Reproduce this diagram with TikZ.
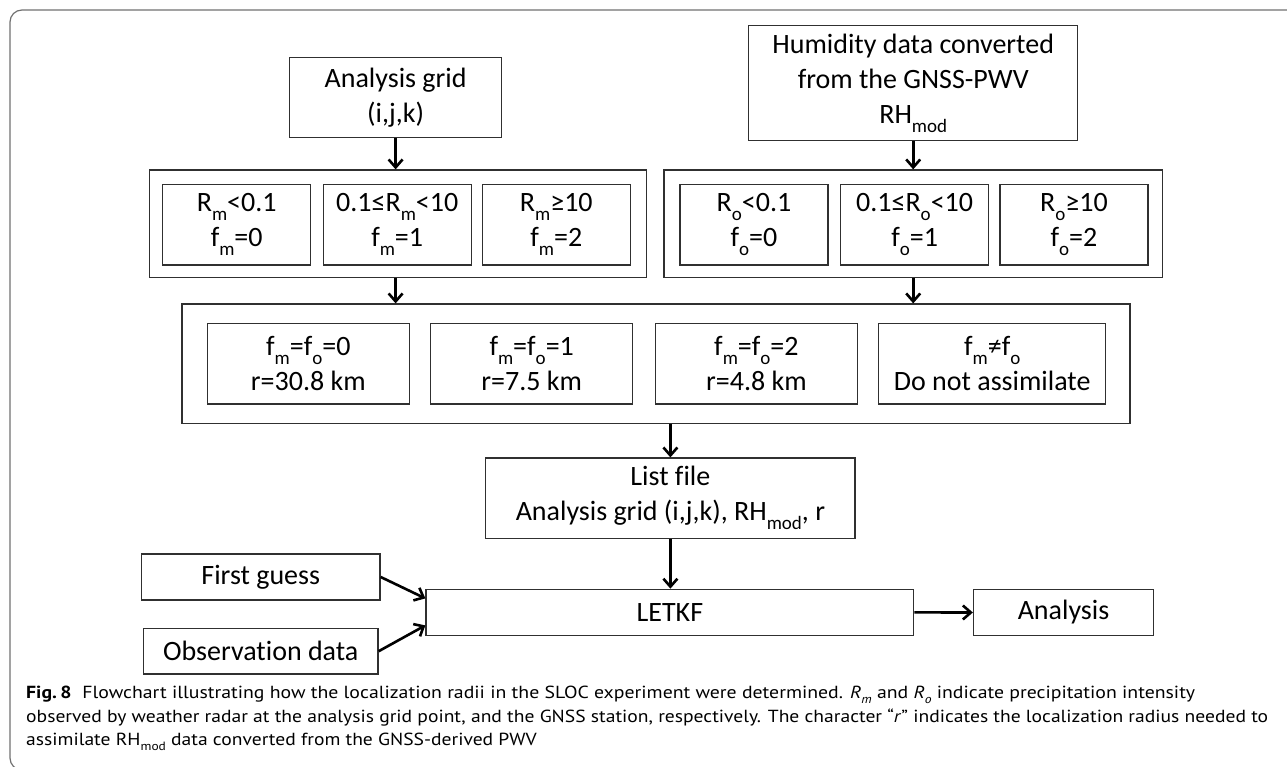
\documentclass[tikz,border=0pt]{standalone}
\usepackage{fontspec}
\usepackage{graphicx}
\setmainfont{Carlito}[Ligatures=NoCommon]
\newfontfamily\capfont{PT Sans}
\usetikzlibrary{arrows.meta,calc}
\definecolor{boxgray}{HTML}{303030}
\definecolor{framegray}{HTML}{707070}
\definecolor{captext}{HTML}{231F20}
\newcommand\sbs[1]{\raisebox{-0.32em}{\fontsize{19}{19}\selectfont #1}}
\newcommand\csb[1]{\raisebox{-0.28em}{\fontsize{12}{12}\selectfont #1}}
\newsavebox\capboxa
\newsavebox\capboxb
\newsavebox\capboxc
\begin{document}
\sbox\capboxa{\capfont\fontsize{17.5}{21}\selectfont\textbf{Fig.\,8}\hspace{0.55em}Flowchart illustrating how the localization radii in the SLOC experiment were determined. \textit{R}\csb{\textit{m}} and \textit{R}\csb{\textit{o}} indicate precipitation intensity}%
\sbox\capboxb{\capfont\fontsize{17.5}{21}\selectfont observed by weather radar at the analysis grid point, and the GNSS station, respectively. The character “\textit{r}” indicates the localization radius needed to}%
\sbox\capboxc{\capfont\fontsize{17.5}{21}\selectfont assimilate RH\csb{mod} data converted from the GNSS-derived PWV}%
\pgfmathsetmacro\capsc{1242/\wd\capboxb}%
\pgfmathsetmacro\capsa{1169/\wd\capboxa}%
\begin{tikzpicture}[x=1pt,y=-1pt,
  box/.style={draw=boxgray, line width=1.3pt, rectangle, inner sep=0pt, align=center,
    font=\fontsize{28}{35}\selectfont},
  holder/.style={draw=boxgray, line width=1.3pt, rectangle, inner sep=0pt},
  arr/.style={line width=2.6pt, -{Straight Barb[length=8pt,width=14pt]}}]
\useasboundingbox (0,0) rectangle (1287,767);
\clip (0,0) rectangle (1287,767);
% outer frame
\draw[framegray, line width=1.2pt, rounded corners=12pt] (1300,10) -- (10,10) -- (10,770) -- (1300,770);

% top boxes
\node[box, minimum width=212pt, minimum height=80pt] (ag) at (395.6,97.5) {Analysis grid\\(i,j,k)};
\node[box, minimum width=329pt, minimum height=115pt] (hum) at (913.2,83.2)
  {Humidity data converted\\from the GNSS-PWV\\RH\sbs{mod}};

% left container
\node[holder, minimum width=497.5pt, minimum height=107.3pt] (lc) at (398,223.7) {};
\node[box, minimum width=148pt, minimum height=80.7pt] (l1) at (236.7,224.7) {R\sbs{m}<0.1\\f\sbs{m}=0};
\node[box, minimum width=148pt, minimum height=80.7pt] (l2) at (397.2,224.7) {0.1≤R\sbs{m}<10\\f\sbs{m}=1};
\node[box, minimum width=148pt, minimum height=80.7pt] (l3) at (556.3,224.7) {R\sbs{m}≥10\\f\sbs{m}=2};

% right container
\node[holder, minimum width=498.3pt, minimum height=107.3pt] (rc) at (913.2,223.7) {};
\node[box, minimum width=148pt, minimum height=80.7pt] (r1) at (754,224.7) {R\sbs{o}<0.1\\f\sbs{o}=0};
\node[box, minimum width=148pt, minimum height=80.7pt] (r2) at (914.6,224.7) {0.1≤R\sbs{o}<10\\f\sbs{o}=1};
\node[box, minimum width=148pt, minimum height=80.7pt] (r3) at (1073.9,224.7) {R\sbs{o}≥10\\f\sbs{o}=2};

% big container
\node[holder, minimum width=948pt, minimum height=119.3pt] (bc) at (656,363.7) {};
\node[box, minimum width=202pt, minimum height=80.7pt] (b1) at (308.3,363.7) {f\sbs{m}=f\sbs{o}=0\\r=30.8 km};
\node[box, minimum width=202pt, minimum height=80.7pt] (b2) at (531.7,363.7) {f\sbs{m}=f\sbs{o}=1\\r=7.5 km};
\node[box, minimum width=202pt, minimum height=80.7pt] (b3) at (756.4,363.7) {f\sbs{m}=f\sbs{o}=2\\r=4.8 km};
\node[box, minimum width=227pt, minimum height=80.7pt] (b4) at (992.2,363.7) {f\sbs{m}≠f\sbs{o}\\Do not assimilate};

% list file and lower boxes
\node[box, minimum width=369.2pt, minimum height=80.3pt] (list) at (670.4,498.2)
  {List file\\Analysis grid (i,j,k), RH\sbs{mod}, r};
\node[box, minimum width=487.8pt, minimum height=46.2pt] (letkf) at (669.9,612.4) {LETKF};
\node[box, minimum width=180pt, minimum height=46.4pt] (ana) at (1063.5,612.5) {Analysis};
\node[box, minimum width=238.5pt, minimum height=46pt] (fg) at (260.8,577) {First guess};
\node[box, minimum width=234.7pt, minimum height=45.7pt] (obs) at (260.7,651.2) {Observation data};

% arrows
\draw[arr] (ag.south) -- (ag.south |- lc.north);
\draw[arr] (ag.south |- lc.south) -- (ag.south |- bc.north);
\draw[arr] (hum.south) -- (hum.south |- rc.north);
\draw[arr] (hum.south |- rc.south) -- (hum.south |- bc.north);
\draw[arr] (list.north |- bc.south) -- (list.north);
\draw[arr] (list.south) -- (list.south |- letkf.north);
\draw[arr] (letkf.east) -- (ana.west);
\draw[arr] (fg.east) -- ($(letkf.west)+(0,-14)$);
\draw[arr] (obs.east) -- ($(letkf.west)+(0,13)$);

% caption
\node[anchor=west, inner sep=0pt, text=captext] (cap1) at (26,695) {\scalebox{\capsa}[1]{\usebox\capboxa}};
\node[anchor=west, inner sep=0pt, text=captext] (cap2) at (26,718) {\scalebox{\capsc}[1]{\usebox\capboxb}};
\node[anchor=west, inner sep=0pt, text=captext] (cap3) at (26,741.5) {\scalebox{\capsc}[1]{\usebox\capboxc}};
\end{tikzpicture}
\end{document}
